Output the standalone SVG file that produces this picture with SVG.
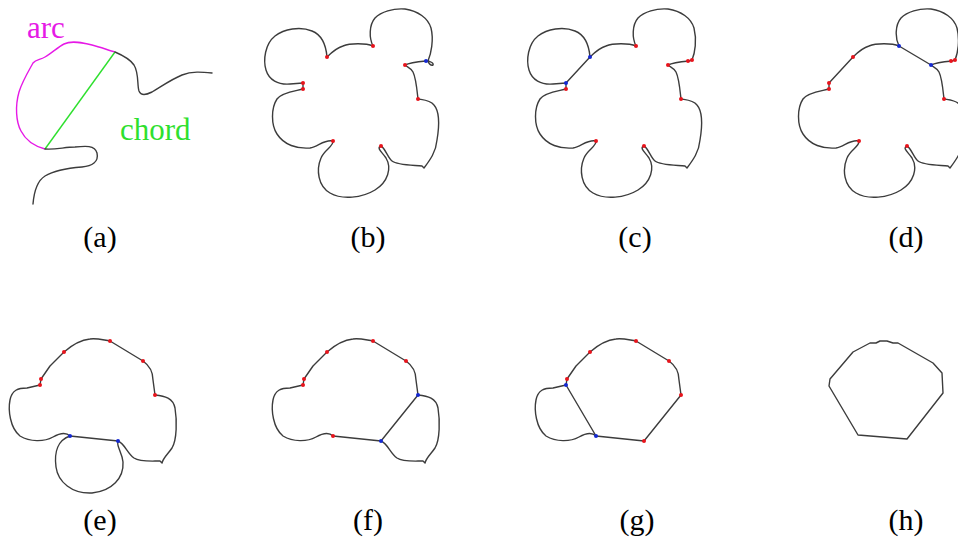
<svg xmlns="http://www.w3.org/2000/svg" width="958" height="547" viewBox="0 0 958 547">
<style>
.c{fill:none;stroke:#3c3c3c;stroke-width:1.4;stroke-linejoin:round;stroke-linecap:round}
.r{fill:#e8141c}
.b{fill:#1428d2}
.lbl{font-family:"Liberation Serif","Times New Roman",serif;font-size:30px;fill:#000;text-anchor:middle}
.ann{font-family:"Liberation Serif","Times New Roman",serif;font-size:31px}
</style>
<defs>
<path id="bTL" d="M327,57 C326,45 322,35 312,31 C300,26 284,29 275,36 C265,44 263,60 266,70 C269,80 278,85 290,84 L303,83"/>
<path id="bMain" d="M303,83 L303,89 C296,91 282,92 277,99 C271,108 271,125 277,134 C284,145 297,149 310,148 C318,147 324,139 333,141 C334,146 324,150 321,158 C316,170 318,186 330,193 C342,200 362,198 375,190 C388,182 392,168 386,158 C382,152 376,148 381,146 C385,148 388,158 392,161 C397,165 410,165 422,166 L424,168 C430,160 436,152 437,140 C439,128 440,112 434,105 C430,100 424,100 418,99 C417,90 416,78 413,72 C411,68 407,67 405,65"/>
<path id="bTRloop" d="M405,65 C409,63 416,62 426,61 C430,61 434,63 433,65 C431,66 428,63 428,61 C431,54 434,40 431,28 C428,18 418,11 405,9 C393,8 381,12 375,18 C369,25 369,38 373,46"/>
<path id="bTR" d="M405,65 C409,63 416,62 426,61 L429,60 C432,53 434,40 431,28 C428,18 418,11 405,9 C393,8 381,12 375,18 C369,25 369,38 373,46"/>
<path id="bTop" d="M373,46 C366,43 350,43 343,46 C336,48 331,53 327,57"/>
<path id="eA" d="M40,385 L41,379 L50,366 L64,352 C72,345 80,340 90,339 C97,338 103,340 110,341 L143,361 C150,366 153,372 153,380 L155,395"/>
<path id="eR" d="M155,395 C165,396 173,398 175,408 C177,420 177,440 172,448 C168,454 163,458 162,463 L160,461 C150,461 140,462 134,458 C127,453 125,444 118,441"/>
<path id="eB" d="M118,441 C116,446 122,452 123,462 C124,478 112,491 92,493 C72,494 58,482 56,467 C54,452 58,440 70,436"/>
<path id="eL" d="M70,436 C66,432 60,433 53,437 C44,442 30,442 20,436 C10,428 8,410 10,400 C12,390 18,388 27,388 L40,385"/>
</defs>

<g id="panel-a">
<path d="M115,52 C108,50 100,47 92,45 C84,43 72,40 64,44 C58,47 52,53 45,57 C40,60 36,59 33,63 C28,72 22,82 19,92 C15,106 16,122 21,131 C25,139 34,146 45,149" fill="none" stroke="#e619e6" stroke-width="1.4"/>
<path d="M45,149 L115,52" fill="none" stroke="#2ee02e" stroke-width="1.4"/>
<path class="c" d="M45,149 C55,150 65,147 75,147 C85,146 95,145 97,153 C99,162 92,166 82,167 C70,168 55,170 45,176 C37,181 34,192 33,204"/>
<path class="c" d="M115,52 C122,55 130,59 134,65 C139,73 137,85 139,91 C141,96 146,95 152,92 C162,86 172,79 182,75 C192,71 202,72 212,73"/>
<text class="ann" x="27" y="38" fill="#e619e6">arc</text>
<text class="ann" x="120" y="140" fill="#2ee02e">chord</text>
<text class="lbl" x="100" y="247">(a)</text>
</g>

<g id="panel-b">
<use href="#bTL" class="c"/><use href="#bMain" class="c"/><use href="#bTRloop" class="c"/><use href="#bTop" class="c"/>
<circle class="r" cx="327" cy="57" r="2"/><circle class="r" cx="303" cy="83" r="2"/><circle class="r" cx="303" cy="89" r="2"/>
<circle class="r" cx="333" cy="141" r="2"/><circle class="r" cx="381" cy="146" r="2"/><circle class="r" cx="418" cy="99" r="2"/>
<circle class="r" cx="405" cy="65" r="2"/><circle class="r" cx="373" cy="46" r="2"/><circle class="b" cx="426" cy="61" r="2"/>
<text class="lbl" x="368" y="247">(b)</text>
</g>

<g id="panel-c">
<g transform="translate(263,0)">
<use href="#bTL" class="c"/><use href="#bMain" class="c"/><use href="#bTR" class="c"/><use href="#bTop" class="c"/>
<path class="c" d="M327,57 L303,83"/>
<circle class="b" cx="327" cy="57" r="2"/><circle class="b" cx="303" cy="83" r="2"/><circle class="r" cx="303" cy="89" r="2"/>
<circle class="r" cx="333" cy="141" r="2"/><circle class="r" cx="381" cy="146" r="2"/><circle class="r" cx="418" cy="99" r="2"/>
<circle class="r" cx="405" cy="65" r="2"/><circle class="r" cx="373" cy="46" r="2"/><circle class="r" cx="425" cy="61" r="2"/><circle class="r" cx="429" cy="60" r="2"/>
</g>
<text class="lbl" x="635" y="247">(c)</text>
</g>

<g id="panel-d">
<g transform="translate(526,0)">
<path class="c" d="M327,57 L303,83"/>
<use href="#bMain" class="c"/><use href="#bTR" class="c"/><use href="#bTop" class="c"/>
<path class="c" d="M373,46 L405,65"/>
<circle class="r" cx="327" cy="57" r="2"/><circle class="r" cx="303" cy="83" r="2"/><circle class="r" cx="303" cy="89" r="2"/>
<circle class="r" cx="333" cy="141" r="2"/><circle class="r" cx="381" cy="146" r="2"/><circle class="r" cx="418" cy="99" r="2"/>
<circle class="b" cx="405" cy="65" r="2"/><circle class="b" cx="373" cy="46" r="2"/><circle class="r" cx="425" cy="61" r="2"/><circle class="r" cx="429" cy="60" r="2"/>
</g>
<text class="lbl" x="906" y="247">(d)</text>
</g>

<g id="panel-e">
<use href="#eA" class="c"/><use href="#eR" class="c"/><use href="#eB" class="c"/><use href="#eL" class="c"/>
<path class="c" d="M118,441 L70,436"/>
<circle class="r" cx="41" cy="379" r="2"/><circle class="r" cx="40" cy="385" r="2"/><circle class="r" cx="64" cy="352" r="2"/>
<circle class="r" cx="110" cy="341" r="2"/><circle class="r" cx="143" cy="361" r="2"/><circle class="r" cx="155" cy="395" r="2"/>
<circle class="b" cx="118" cy="441" r="2"/><circle class="b" cx="70" cy="436" r="2"/>
<text class="lbl" x="100" y="530">(e)</text>
</g>

<g id="panel-f">
<g transform="translate(263,0)">
<use href="#eA" class="c"/><use href="#eR" class="c"/><use href="#eL" class="c"/>
<path class="c" d="M155,395 L118,441 L70,436"/>
<circle class="r" cx="41" cy="379" r="2"/><circle class="r" cx="40" cy="385" r="2"/><circle class="r" cx="64" cy="352" r="2"/>
<circle class="r" cx="110" cy="341" r="2"/><circle class="r" cx="143" cy="361" r="2"/><circle class="b" cx="155" cy="395" r="2"/>
<circle class="b" cx="118" cy="441" r="2"/><circle class="r" cx="70" cy="436" r="2"/>
</g>
<text class="lbl" x="368" y="530">(f)</text>
</g>

<g id="panel-g">
<g transform="translate(526,0)">
<use href="#eA" class="c"/><use href="#eL" class="c"/>
<path class="c" d="M155,395 L118,441 L70,436"/>
<path class="c" d="M40,385 L70,436"/>
<circle class="r" cx="41" cy="379" r="2"/><circle class="b" cx="40" cy="385" r="2"/><circle class="r" cx="64" cy="352" r="2"/>
<circle class="r" cx="110" cy="341" r="2"/><circle class="r" cx="143" cy="361" r="2"/><circle class="r" cx="155" cy="395" r="2"/>
<circle class="r" cx="118" cy="441" r="2"/><circle class="b" cx="70" cy="436" r="2"/>
</g>
<text class="lbl" x="637" y="530">(g)</text>
</g>

<g id="panel-h">
<path class="c" transform="translate(789,0)" d="M40,386 L41,379 L64,352 L81,343 L87,343 L91,341 L98,341 L104,343 L109,343 L144,363 L153,373 L154,393 L118,439 L69,435 Z"/>
<text class="lbl" x="906" y="530">(h)</text>
</g>
</svg>
